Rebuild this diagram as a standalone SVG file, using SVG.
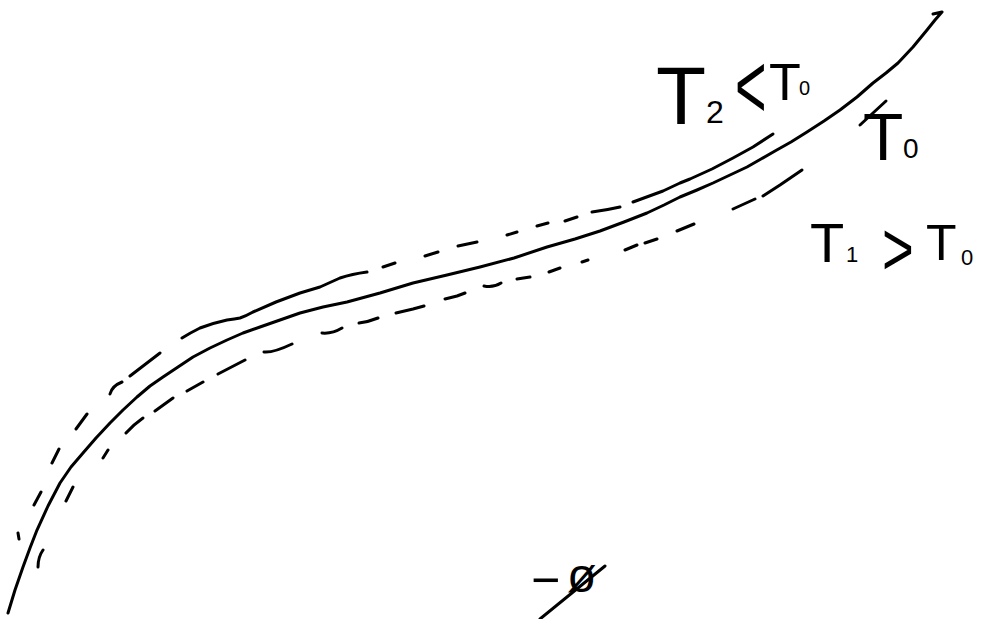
<svg xmlns="http://www.w3.org/2000/svg" width="995" height="619" viewBox="0 0 995 619">
<style>
.s{fill:none;stroke:#000;stroke-width:3;stroke-linecap:round;stroke-linejoin:round}
.t{font-family:"Liberation Sans","DejaVu Sans",sans-serif;fill:#000}
</style>
<rect width="995" height="619" fill="#fff"/>
<g id="curve-T0">
<polyline class="s" points="8,613 15,590 23,567 30,548 37,530 48,506 60,483 71,467 83,453 96,438 110,423 123,410 137,397 150,386 163,377 178,367 193,357 210,348 227,340 243,333 260,327 280,320 300,313 323,307 347,302 380,293 413,283 447,275 480,267 514,258 547,247 575,239 600,231 624,222 647,213 664,205 680,197 697,190 713,183 730,175 747,167 761,159 775,151 791,142 807,132 824,121 840,110 857,97 873,83 886,73 898,63 913,47 927,30 935,20 942,12 933,14"/>
</g>
<g id="curve-T2">
<path class="s" d="M18,533L19,539 M34,505L41,492 M52,463L59,449 M76,429L87,414 M110,394Q112,386 122,382 M130,376L160,353 M182,338Q190,333 200,328 Q213,323 227,320 Q235,319 240,318 Q246,316 253,312 L276,302 300,293 320,287 340,278 Q352,274 367,272 M383,267L395,263 M425,256L438,252 M458,246L477,242 M507,235L517,232 M537,226L548,223 M565,221L577,217 M592,212Q607,210 620,207 M633,202L663,191 680,183 690,179 712,169 733,158 753,147 773,134"/>
</g>
<g id="curve-T1">
<path class="s" d="M38,567Q38,557 43,550 M66,501L73,487 M103,458L108,450 M126,433Q133,425 143,418 M155,411L173,398 M187,391L203,382 M218,374L245,360 M264,352Q273,353 292,344 M322,333Q332,334 342,328 M359,323Q368,322 378,318 M396,313L413,309 424,306 M445,299L457,296 465,293 M484,286Q493,288 501,283 M517,279L530,277 M549,272L560,268 M582,262L588,260 M625,250L637,245 M645,243L657,239 M677,231L694,224 M733,209L755,199 M763,196L780,185 802,170"/>
</g>
<g id="label-T2">
<text class="t"><tspan x="656" y="124" font-size="82">T</tspan><tspan x="706" y="123" font-size="32">2</tspan></text>
<text class="t" font-size="72" transform="translate(735,118) scale(0.75,1.3)">&lt;</text>
<text class="t"><tspan x="769" y="100" font-size="52">T</tspan><tspan x="799" y="95" font-size="20">0</tspan></text>
</g>
<g id="label-T0">
<line class="s" x1="860" y1="125" x2="886" y2="101"/>
<text class="t"><tspan x="863" y="160" font-size="66">T</tspan><tspan x="903" y="158" font-size="28">0</tspan></text>
</g>
<g id="label-T1">
<text class="t"><tspan x="810" y="262" font-size="56">T</tspan><tspan x="846" y="262" font-size="22">1</tspan></text>
<text class="t" font-size="64" transform="translate(882,275) scale(0.85,1.2)">&gt;</text>
<text class="t"><tspan x="926" y="260" font-size="50">T</tspan><tspan x="961" y="265" font-size="22">0</tspan></text>
</g>
<g id="label-phi">
<line class="s" x1="540" y1="619" x2="605" y2="566"/>
<text class="t"><tspan x="531" y="597" font-size="50">−</tspan><tspan x="567" y="592" font-size="48">ø</tspan></text>
</g>
</svg>
